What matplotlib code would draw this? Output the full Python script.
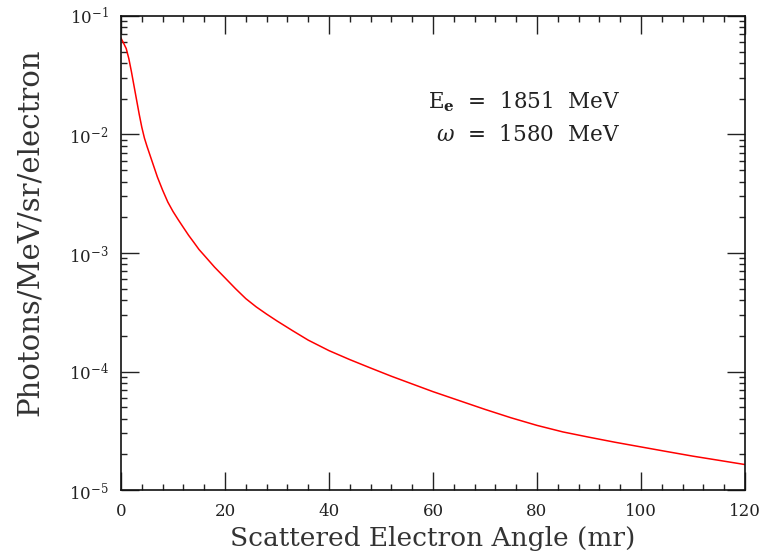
import matplotlib
matplotlib.use('Agg')
import matplotlib.pyplot as plt
from matplotlib.ticker import MultipleLocator, LogLocator, NullFormatter

# scattered electron angle (mr) vs photons/MeV/sr/electron
angle = [0, 0.5, 1, 1.5, 2, 2.5, 3, 3.5, 4, 4.5, 5, 6, 7, 8, 9, 10, 11, 12, 13,
         14, 15, 16, 18, 20, 22, 24, 26, 28, 30, 33, 36, 40, 44, 48, 52, 56,
         60, 65, 70, 75, 80, 85, 90, 95, 100, 105, 110, 115, 120]
flux = [6.50e-2, 5.89e-2, 5.31e-2, 4.37e-2, 3.39e-2, 2.57e-2, 1.95e-2, 1.48e-2,
        1.15e-2, 9.33e-3, 7.94e-3, 5.89e-3, 4.37e-3, 3.39e-3, 2.69e-3, 2.24e-3,
        1.91e-3, 1.64e-3, 1.41e-3, 1.23e-3, 1.07e-3, 9.55e-4, 7.59e-4, 6.17e-4,
        5.01e-4, 4.12e-4, 3.51e-4, 3.05e-4, 2.67e-4, 2.21e-4, 1.84e-4, 1.50e-4,
        1.26e-4, 1.07e-4, 9.12e-5, 7.85e-5, 6.76e-5, 5.69e-5, 4.79e-5, 4.07e-5,
        3.51e-5, 3.09e-5, 2.79e-5, 2.53e-5, 2.31e-5, 2.11e-5, 1.93e-5, 1.78e-5,
        1.64e-5]

y_ticks = [1e-5, 1e-4, 1e-3, 1e-2, 1e-1]
y_labels = [r'$10^{-5}$', r'$10^{-4}$', r'$10^{-3}$', r'$10^{-2}$', r'$10^{-1}$']
x_ticks = [0, 20, 40, 60, 80, 100, 120]

plt.rcParams.update({'font.family': 'DejaVu Serif', 'mathtext.fontset': 'dejavuserif'})
my_dpi = 100
fig = plt.figure(figsize=(764/my_dpi, 553/my_dpi), dpi=my_dpi)
ax = fig.add_axes([0.1584, 0.1139, 0.8167, 0.8572])

ax.plot(angle, flux, color='#ff0000', linewidth=1.1)
ax.set_yscale('log')
ax.set_xlim(0, 120)
ax.set_ylim(1e-5, 1e-1)

ax.set_xticks(x_ticks)
ax.set_xticklabels([str(t) for t in x_ticks])
ax.xaxis.set_minor_locator(MultipleLocator(4))
ax.set_yticks(y_ticks)
ax.set_yticklabels(y_labels)
ax.yaxis.set_minor_locator(LogLocator(base=10, subs=range(2, 10)))
ax.yaxis.set_minor_formatter(NullFormatter())

ax.tick_params(which='both', direction='in', top=True, right=True, color='#222222', width=1.0)
ax.tick_params(which='major', length=13, labelsize=12, pad=9, labelcolor='#222222')
ax.tick_params(which='minor', length=4.5)
for s in ax.spines.values():
    s.set_linewidth(1.2)
    s.set_color('#111111')

ax.set_xlabel('Scattered Electron Angle (mr)', fontsize=19, color='#333333', labelpad=5)
ax.set_ylabel('Photons/MeV/sr/electron', fontsize=21, color='#333333')
ax.yaxis.set_label_coords(-0.123, 0.544)

ax.text(0.8, 0.8186, r'E$_\mathbf{e}$  =  1851  MeV', transform=ax.transAxes,
        ha='right', va='center', fontsize=15.5, color='#222222')
ax.text(0.8, 0.749, r'$\omega$  =  1580  MeV', transform=ax.transAxes,
        ha='right', va='center', fontsize=15.5, color='#222222')

plt.savefig('out.png', dpi=my_dpi, facecolor='white')
